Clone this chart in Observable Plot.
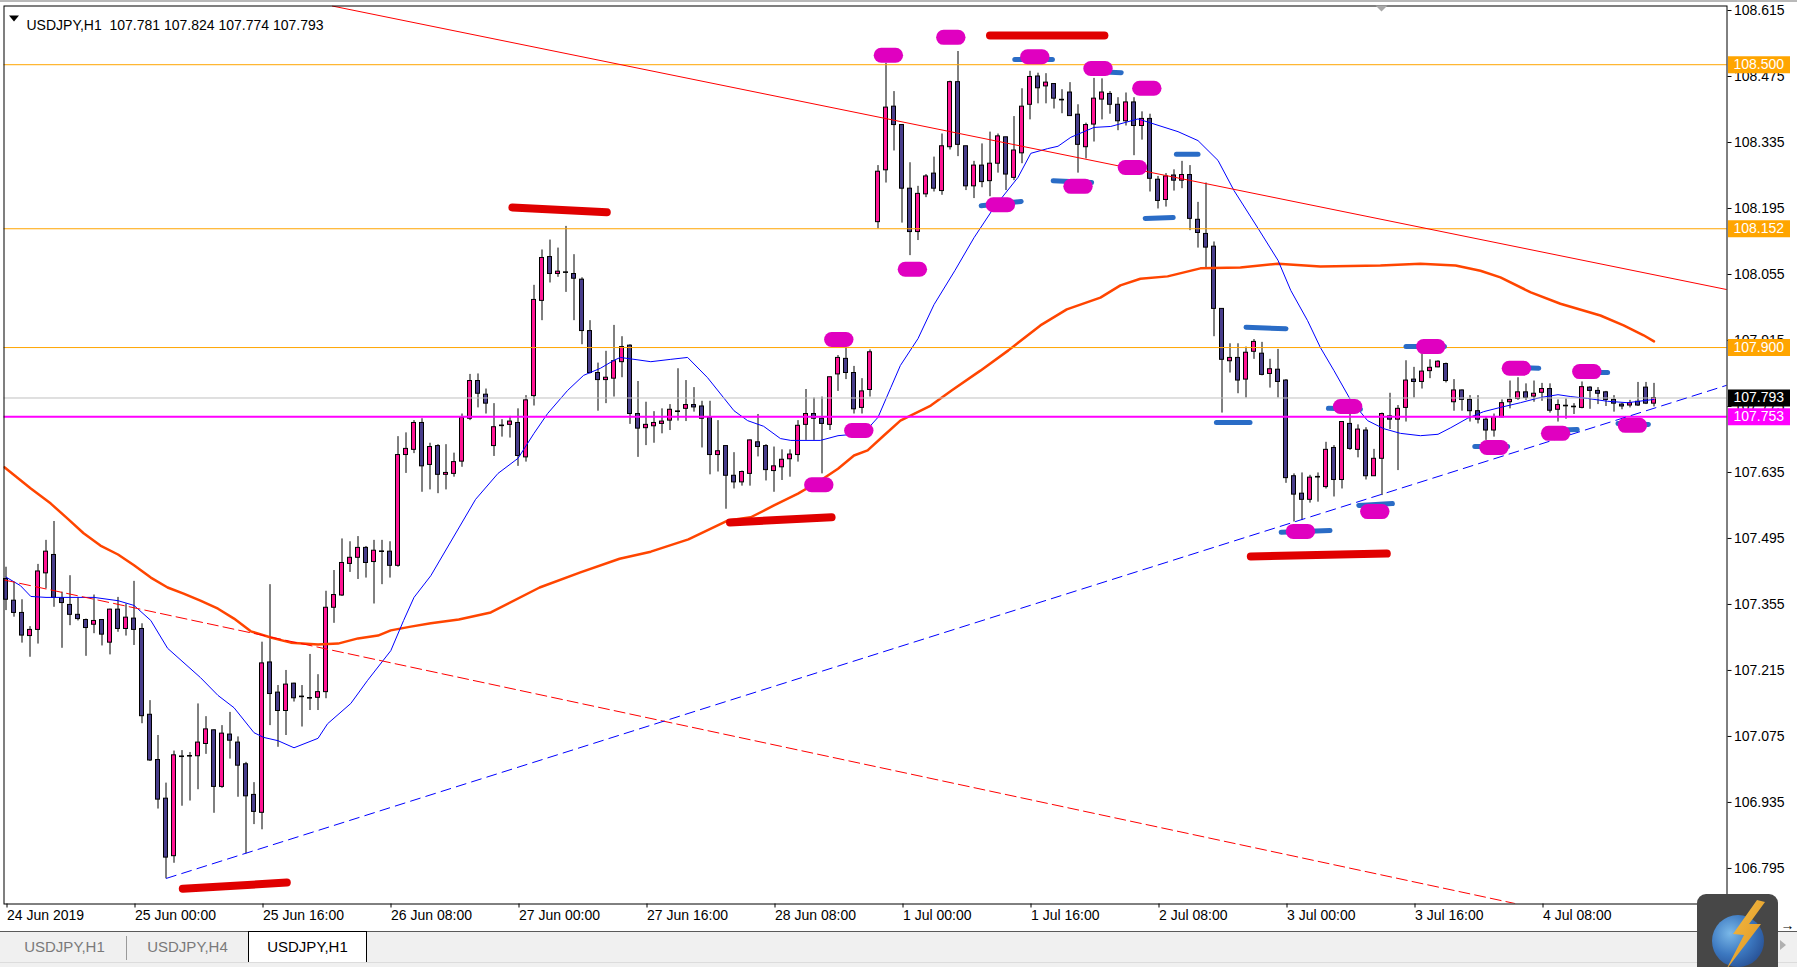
<!DOCTYPE html>
<html><head><meta charset="utf-8">
<script src="https://cdn.jsdelivr.net/npm/d3@7"></script>
<script src="https://cdn.jsdelivr.net/npm/@observablehq/plot@0.6"></script>
<style>
html,body{margin:0;padding:0;background:#fff;}
#wrap{position:relative;width:1797px;height:967px;overflow:hidden;font-family:"Liberation Sans",Arial,sans-serif;}
#chart{position:absolute;left:0;top:0;}
#topline{position:absolute;left:0;top:0;width:1797px;height:2px;background:#b9b9b9;}
#tabs{position:absolute;left:0;top:931px;width:1797px;height:36px;background:#f0f0f0;border-top:1px solid #5a5a5a;box-sizing:border-box;}
.tab{position:absolute;top:0;height:30px;line-height:30px;text-align:center;font-size:15px;color:#7a7a7a;}
.tab.active{top:-1px;height:31px;background:#fff;border:1px solid #000;border-bottom:none;box-sizing:border-box;color:#000;}
.sep{position:absolute;top:4px;width:1px;height:24px;background:#9a9a9a;}
#tabsbottom{position:absolute;left:0;top:962px;width:1797px;height:1px;background:#dcdcdc;}
#icon{position:absolute;left:1697px;top:894px;width:81px;height:82px;background:#474747;border-radius:9px;}
#globe{position:absolute;left:15px;top:21px;width:52px;height:52px;border-radius:50%;background:radial-gradient(circle at 35% 35%,#7ab8e8 0%,#3c78c0 45%,#1c3a7c 100%);}
#bolt{position:absolute;left:0;top:0;width:81px;height:82px;background:linear-gradient(120deg,#ffd35a,#e8a530 60%,#c9781a);clip-path:polygon(60px 6px,36px 40px,47px 41px,29px 76px,64px 30px,52px 30px,68px 8px);}
#arrow{position:absolute;left:1780px;top:940px;width:0;height:0;border-top:5px solid transparent;border-bottom:5px solid transparent;border-left:6px solid #b0b0b0;}
</style>
</head><body>
<div id="wrap">
  <div id="chart"></div>
  <div id="topline"></div>
  <div id="tabs">
    <div class="tab" style="left:3px;width:123px">USDJPY,H1</div>
    <div class="sep" style="left:126px"></div>
    <div class="tab" style="left:128px;width:119px">USDJPY,H4</div>
    <div class="tab active" style="left:248px;width:119px">USDJPY,H1</div>
  </div>
  <div id="tabsbottom"></div>
  <div id="arrow"></div>
  <div id="icon"><div id="globe"></div><div id="bolt"></div></div>
</div>
<script>
// ---- Data (bar index 0 = 24 Jun 2019 08:00, H1 bars) ----
const opens = [107.409,107.363,107.337,107.288,107.301,107.421,107.460,107.368,107.354,107.333,
107.322,107.312,107.322,107.274,107.344,107.303,107.325,107.303,107.121,107.025,
106.943,106.821,107.033,107.034,107.033,107.059,107.088,106.968,107.079,107.062,
107.016,106.951,106.913,107.232,107.168,107.129,107.187,107.160,107.157,107.157,
107.169,107.348,107.374,107.441,107.454,107.475,107.445,107.468,107.467,107.437,
107.672,107.683,107.740,107.651,107.691,107.630,107.632,107.658,107.749,107.829,
107.800,107.691,107.735,107.736,107.740,107.667,107.797,107.999,108.092,108.056,
108.060,108.056,108.044,107.935,107.846,107.831,107.834,107.869,107.904,107.759,
107.729,107.733,107.738,107.745,107.765,107.770,107.778,107.775,107.751,107.672,
107.691,107.628,107.614,107.632,107.699,107.691,107.638,107.646,107.663,107.672,
107.736,107.759,107.749,107.736,107.843,107.876,107.846,107.772,107.810,108.166,
108.276,108.411,108.372,108.237,108.145,108.225,108.269,108.232,108.325,108.463,
108.327,108.242,108.286,108.253,108.290,108.346,108.260,108.312,108.415,108.475,
108.454,108.459,108.426,108.441,108.394,108.325,108.373,108.426,108.438,108.415,
108.380,108.420,108.370,108.385,108.256,108.213,108.265,108.254,108.266,108.171,
108.141,108.114,107.982,107.871,107.878,107.832,107.891,107.887,107.844,107.853,
107.830,107.627,107.590,107.577,107.626,107.604,107.687,107.619,107.738,107.683,
107.724,107.627,107.664,107.754,107.747,107.772,107.832,107.827,107.850,107.858,
107.865,107.784,107.809,107.789,107.765,107.747,107.724,107.752,107.784,107.791,
107.805,107.796,107.804,107.812,107.768,107.777,107.775,107.772,107.815,107.808,
107.805,107.789,107.779,107.777,107.785,107.815,107.781];
const highs = [107.434,107.402,107.365,107.308,107.440,107.491,107.531,107.381,107.416,107.370,
107.324,107.375,107.322,107.345,107.370,107.356,107.404,107.314,107.151,107.077,
106.976,107.044,107.045,107.041,107.144,107.117,107.089,107.098,107.126,107.074,
107.020,106.977,107.275,107.397,107.183,107.215,107.188,107.183,107.249,107.206,
107.383,107.427,107.494,107.488,107.499,107.478,107.491,107.491,107.488,107.711,
107.719,107.745,107.749,107.697,107.694,107.694,107.676,107.759,107.843,107.844,
107.812,107.781,107.747,107.754,107.770,107.798,108.032,108.107,108.128,108.111,
108.157,108.097,108.048,107.957,107.867,107.892,107.947,107.923,107.906,107.828,
107.784,107.764,107.770,107.779,107.855,107.830,107.815,107.786,107.786,107.745,
107.691,107.677,107.638,107.704,107.758,107.694,107.689,107.683,107.683,107.745,
107.811,107.793,107.795,107.837,107.883,107.901,107.860,107.834,107.895,108.286,
108.503,108.443,108.372,108.292,108.242,108.267,108.304,108.353,108.465,108.528,
108.327,108.295,108.332,108.357,108.353,108.346,108.390,108.449,108.486,108.482,
108.481,108.459,108.447,108.462,108.415,108.376,108.471,108.470,108.443,108.430,
108.440,108.430,108.400,108.395,108.263,108.269,108.277,108.295,108.286,108.208,
108.249,108.124,107.982,107.908,107.908,107.901,107.917,107.911,107.875,107.896,
107.832,107.632,107.634,107.629,107.634,107.699,107.692,107.742,107.759,107.736,
107.730,107.684,107.761,107.803,107.777,107.872,107.858,107.887,107.874,107.872,
107.867,107.832,107.810,107.798,107.798,107.752,107.759,107.789,107.829,107.836,
107.823,107.829,107.824,107.823,107.789,107.791,107.781,107.827,107.817,107.815,
107.807,107.798,107.782,107.788,107.826,107.826,107.824];
const lows = [107.342,107.328,107.273,107.243,107.271,107.388,107.349,107.262,107.310,107.320,
107.245,107.293,107.267,107.248,107.296,107.288,107.268,107.102,107.022,106.921,
106.773,106.806,106.927,106.938,106.962,107.037,106.912,106.965,107.027,106.946,
106.826,106.888,106.877,107.098,107.052,107.077,107.148,107.095,107.130,107.130,
107.155,107.315,107.372,107.423,107.408,107.411,107.356,107.397,107.411,107.434,
107.633,107.675,107.593,107.598,107.590,107.598,107.625,107.646,107.745,107.772,
107.759,107.669,107.710,107.708,107.648,107.657,107.776,107.957,108.037,108.049,
108.017,107.957,107.906,107.844,107.765,107.781,107.795,107.836,107.737,107.667,
107.692,107.697,107.717,107.724,107.744,107.743,107.763,107.687,107.630,107.636,
107.557,107.600,107.606,107.606,107.668,107.617,107.593,107.618,107.625,107.657,
107.703,107.703,107.632,107.724,107.807,107.832,107.759,107.759,107.795,108.152,
108.249,108.317,108.164,108.095,108.127,108.218,108.230,108.223,108.319,108.305,
108.233,108.216,108.239,108.220,108.270,108.233,108.254,108.290,108.383,108.417,
108.417,108.406,108.396,108.391,108.270,108.300,108.336,108.383,108.395,108.360,
108.370,108.307,108.340,108.230,108.194,108.198,108.232,108.237,108.148,108.111,
108.068,107.923,107.761,107.846,107.802,107.793,107.875,107.840,107.814,107.793,
107.612,107.530,107.533,107.570,107.572,107.600,107.583,107.600,107.682,107.666,
107.619,107.627,107.586,107.726,107.639,107.742,107.793,107.812,107.834,107.857,
107.825,107.765,107.765,107.742,107.738,107.703,107.710,107.751,107.770,107.788,
107.788,107.784,107.786,107.761,107.742,107.748,107.758,107.770,107.769,107.779,
107.775,107.763,107.768,107.772,107.775,107.779,107.774];
const closes = [107.365,107.337,107.289,107.301,107.425,107.467,107.369,107.358,107.333,107.324,
107.305,107.320,107.291,107.344,107.303,107.327,107.301,107.118,107.024,106.941,
106.818,107.035,107.033,107.034,107.062,107.090,106.968,107.081,107.066,107.013,
106.948,106.915,107.230,107.165,107.129,107.185,107.156,107.160,107.157,107.169,
107.348,107.375,107.443,107.454,107.475,107.443,107.469,107.468,107.437,107.672,
107.685,107.740,107.648,107.689,107.630,107.634,107.657,107.751,107.829,107.802,
107.781,107.731,107.735,107.743,107.670,107.788,108.001,108.090,108.056,108.061,
108.060,108.046,107.935,107.846,107.831,107.836,107.871,107.901,107.759,107.728,
107.736,107.740,107.743,107.768,107.765,107.778,107.773,107.749,107.672,107.680,
107.628,107.614,107.636,107.703,107.689,107.640,107.648,107.662,107.673,107.734,
107.759,107.749,107.738,107.837,107.878,107.846,107.769,107.807,107.890,108.273,
108.409,108.372,108.237,108.145,108.226,108.263,108.237,108.327,108.463,108.330,
108.242,108.286,108.251,108.290,108.348,108.267,108.318,108.411,108.474,108.450,
108.462,108.428,108.426,108.391,108.330,108.372,108.428,108.441,108.415,108.380,
108.420,108.370,108.385,108.258,108.211,108.263,108.254,108.266,108.173,108.143,
108.112,107.982,107.874,107.878,107.830,107.889,107.912,107.842,107.854,107.827,
107.623,107.588,107.577,107.624,107.626,107.683,107.619,107.742,107.685,107.726,
107.627,107.664,107.759,107.747,107.770,107.830,107.827,107.849,107.857,107.870,
107.829,107.809,107.789,107.765,107.747,107.724,107.752,107.782,107.789,107.805,
107.793,107.802,107.812,107.766,107.778,107.777,107.775,107.816,107.808,107.802,
107.789,107.781,107.775,107.782,107.777,107.781,107.793];

// moving averages: [bar index, price]
const maFast = [[0,107.413],[1.8,107.395],[3.1,107.372],[5,107.370],[11,107.370],[14,107.363],[16,107.353],[18.1,107.321],[20.2,107.262],[24.3,107.200],[26.5,107.162],[28.5,107.136],[31,107.083],[32.2,107.073],[34,107.066],[36,107.051],[39,107.071],[40.2,107.102],[43.1,107.145],[45.2,107.194],[48.1,107.257],[49.7,107.321],[51,107.370],[53.1,107.416],[58.7,107.578],[61.5,107.633],[64,107.665],[66,107.718],[67.7,107.760],[70.2,107.809],[72.2,107.841],[74.3,107.856],[76,107.873],[76.8,107.879],[78.5,107.875],[80.6,107.870],[83.1,107.875],[85.2,107.879],[87.7,107.836],[91,107.766],[92.7,107.745],[94.7,107.733],[96.8,107.707],[98.1,107.703],[101.8,107.703],[104,107.713],[107.2,107.718],[109,107.752],[110.6,107.815],[111.8,107.862],[114,107.919],[116,107.991],[118.6,108.063],[121,108.133],[123.5,108.197],[126.5,108.261],[128.1,108.312],[130.2,108.322],[131.5,108.327],[133.1,108.346],[136,108.367],[138.1,108.369],[141.5,108.385],[146.5,108.358],[149,108.339],[151.5,108.297],[153.5,108.233],[156.5,108.153],[159,108.085],[160.6,108.021],[162.7,107.957],[164.3,107.900],[166,107.851],[168.1,107.788],[170.2,107.745],[172.2,107.728],[174.3,107.718],[176.8,107.713],[179,107.716],[180.6,107.730],[182.7,107.750],[184.7,107.764],[186.8,107.773],[189.3,107.783],[191.8,107.794],[194,107.800],[195.6,107.796],[197.7,107.792],[200.2,107.786],[202.7,107.783],[206,107.790]];
const maSlow = [[-0.2,107.646],[3.1,107.601],[5.6,107.569],[7.7,107.537],[9.7,107.506],[11.8,107.480],[14,107.461],[16,107.438],[18.1,107.412],[20.2,107.391],[22.2,107.378],[24.3,107.363],[26.5,107.346],[28.5,107.325],[30.6,107.298],[33.1,107.285],[35.6,107.274],[39,107.270],[41.5,107.272],[44,107.283],[46.5,107.289],[48.1,107.300],[50.6,107.308],[53.1,107.315],[56.6,107.323],[60.6,107.338],[66.7,107.391],[71.8,107.423],[76.7,107.452],[80.6,107.467],[85.3,107.493],[90.2,107.533],[93.1,107.540],[96,107.565],[99,107.590],[101.8,107.618],[104,107.643],[106,107.671],[107.7,107.682],[109.7,107.713],[111.8,107.745],[115.6,107.777],[118.2,107.809],[121.8,107.851],[125.3,107.894],[129.3,107.947],[132.6,107.981],[136.8,108.006],[139.3,108.032],[141.8,108.046],[145.2,108.051],[149.3,108.068],[154.3,108.070],[159,108.078],[164.3,108.072],[171.8,108.074],[176.8,108.078],[181.2,108.074],[184.3,108.063],[186.8,108.049],[190.6,108.017],[194.3,107.993],[199.3,107.968],[202.2,107.947],[204.7,107.926],[206,107.913]];

// horizontal levels & trend lines
const orangeLevels = [108.500, 108.152, 107.900];
const magentaLevels = [107.753];
const bidLevels = [107.793];
const redTrend = [[40.8,108.6245],[215.1,108.023]];
const redDashTrend = [[-0.25,107.407],[188.6,106.7207]];
const blueDashTrend = [[20.06,106.774],[215.1,107.820]];

// hand-drawn annotations: [x1 index, price1, x2 index, price2] and blobs [index, price]
const redMarks = [[21.6,106.752,35.6,106.765],[62.8,108.197,75.6,108.187],[90,107.529,103.7,107.540],[122.5,108.562,137.8,108.562],[155.1,107.457,173.1,107.463]];
const blueMarks = [[125.8,108.511,131.1,108.511],[135,108.486,139.7,108.483],[121.6,108.201,127.2,108.210],[130.6,108.254,136,108.250],[146,108.310,149.3,108.310],[142.1,108.174,146.2,108.176],[154.7,107.943,160.3,107.940],[151,107.741,155.8,107.741],[165,107.771,169.6,107.769],[159.1,107.508,165.8,107.512],[168.8,107.565,173.6,107.569],[174.7,107.902,180.1,107.902],[183.3,107.690,188,107.690],[187.2,107.858,191.9,107.856],[192.2,107.724,196.7,107.726],[196.2,107.847,200.5,107.847],[201.2,107.739,205.6,107.737]];
const blobs = [[110.3,108.520],[118.1,108.558],[128.6,108.517],[136.5,108.492],[142.6,108.450],[140.8,108.282],[124.3,108.203],[134,108.242],[113.3,108.066],[104.1,107.917],[106.6,107.724],[101.6,107.609],[178.1,107.902],[167.7,107.775],[171.1,107.552],[161.8,107.510],[186,107.688],[188.8,107.856],[193.7,107.718],[197.6,107.849],[203.3,107.735]];

// axes
const yTicks = [108.615,108.475,108.335,108.195,108.055,107.915,107.775,107.635,107.495,107.355,107.215,107.075,106.935,106.795];
const xTickIdx = [0,16,32,48,64,80,96,112,128,144,160,176,192];
const xTickLabels = ["24 Jun 2019","25 Jun 00:00","25 Jun 16:00","26 Jun 08:00","27 Jun 00:00","27 Jun 16:00","28 Jun 08:00","1 Jul 00:00","1 Jul 16:00","2 Jul 08:00","3 Jul 00:00","3 Jul 16:00","4 Jul 08:00"];
const headerText = ["USDJPY,H1\u00a0\u00a0107.781 107.824 107.774 107.793"];

// ---- build ----
const candles = opens.map((o, i) => ({i, open: o, high: highs[i], low: lows[i], close: closes[i]}));
const bodies = candles.filter(d => d.open !== d.close);
const dojis = candles.filter(d => d.open === d.close);
const BULL = "#ff1493", BEAR = "#483d8b";
const fmt = d => d.toFixed(3);
const LBL_X1 = 215.3125, LBL_X2 = 223.0625; // right price-scale label boxes

const downTri = (w, h) => ({draw(ctx) { ctx.moveTo(-w/2, -h/2); ctx.lineTo(w/2, -h/2); ctx.lineTo(0, h/2); ctx.closePath(); }});

const chart = Plot.plot({
  width: 1797, height: 932,
  marginLeft: 3.5, marginRight: 70.5, marginTop: 5.5, marginBottom: 28.5,
  x: {type: "linear", domain: [-0.25, 215.125]},
  y: {type: "linear", domain: [106.71958, 108.62455]},
  style: {background: "white", fontFamily: "'Liberation Sans', Arial, sans-serif", fontSize: "14px", overflow: "visible"},
  marks: [
    // candles
    Plot.ruleX(candles, {x: "i", y1: "low", y2: "high", stroke: "black", strokeWidth: 1}),
    Plot.rect(bodies, {x1: d => d.i - 0.25, x2: d => d.i + 0.25, y1: "open", y2: "close",
      fill: d => d.close > d.open ? BULL : BEAR, stroke: "black", strokeWidth: 1}),
    Plot.ruleY(dojis, {y: "close", x1: d => d.i - 0.3125, x2: d => d.i + 0.3125, stroke: "black", strokeWidth: 1.6}),
    // moving averages
    Plot.line(maSlow, {x: d => d[0], y: d => d[1], stroke: "#ff4500", strokeWidth: 2.5, clip: true}),
    Plot.line(maFast, {x: d => d[0], y: d => d[1], stroke: "#0000ff", strokeWidth: 1}),
    // horizontal levels
    Plot.ruleY(bidLevels, {stroke: "#c0c0c0", strokeWidth: 1}),
    Plot.ruleY(orangeLevels, {stroke: "#ffa500", strokeWidth: 1}),
    Plot.ruleY(magentaLevels, {stroke: "#ff00ff", strokeWidth: 2}),
    // trend lines
    Plot.line(redTrend, {x: d => d[0], y: d => d[1], stroke: "#ff0000", strokeWidth: 1, clip: true}),
    Plot.line(redDashTrend, {x: d => d[0], y: d => d[1], stroke: "#ff0000", strokeWidth: 1, strokeDasharray: "11,5", clip: true}),
    Plot.line(blueDashTrend, {x: d => d[0], y: d => d[1], stroke: "#0000ff", strokeWidth: 1, strokeDasharray: "10,6", clip: true}),
    // hand-drawn annotations
    Plot.link(blueMarks, {x1: d => d[0] + 0.3, y1: d => d[1], x2: d => d[2] - 0.3, y2: d => d[3], stroke: "#2a6cc6", strokeWidth: 5, strokeLinecap: "round"}),
    Plot.link(blobs, {x1: d => d[0] - 0.9, y1: d => d[1], x2: d => d[0] + 0.9, y2: d => d[1], stroke: "#e000c0", strokeWidth: 15, strokeLinecap: "round"}),
    Plot.link(redMarks, {x1: d => d[0] + 0.5, y1: d => d[1], x2: d => d[2] - 0.5, y2: d => d[3], stroke: "#e00000", strokeWidth: 8, strokeLinecap: "round"}),
    // frame & axes
    Plot.frame({stroke: "black", strokeWidth: 1}),
    Plot.axisY(yTicks, {anchor: "right", tickSize: 4, tickPadding: 3, tickFormat: fmt, fontSize: 14, fill: "black", stroke: "black"}),
    Plot.axisX(xTickIdx, {anchor: "bottom", tickSize: 4, tickPadding: 2, textAnchor: "start", dx: 1,
      tickFormat: d => xTickLabels[xTickIdx.indexOf(d)], fontSize: 14, fill: "black", stroke: "black"}),
    // price labels on the scale
    Plot.ruleY(orangeLevels, {y: d => d, x1: LBL_X1, x2: LBL_X2, stroke: "#ffa500", strokeWidth: 17}),
    Plot.ruleY(magentaLevels, {y: d => d, x1: LBL_X1, x2: LBL_X2, stroke: "#ff00ff", strokeWidth: 17}),
    Plot.ruleY(bidLevels, {y: d => d, x1: LBL_X1, x2: LBL_X2, stroke: "#000000", strokeWidth: 17}),
    Plot.text([...orangeLevels, ...magentaLevels, ...bidLevels], {x: LBL_X1, y: d => d, text: fmt, dx: 5, textAnchor: "start", fill: "white", fontSize: 14}),
    // header
    Plot.dot([0], {frameAnchor: "top-left", dx: 10, dy: 12.5, symbol: downTri(10, 6), fill: "black", stroke: null, r: 5}),
    Plot.text(headerText, {frameAnchor: "top-left", dx: 22.5, dy: 14, text: d => d, textAnchor: "start", fill: "black", fontSize: 14}),
    Plot.dot([0], {frameAnchor: "top-left", dx: 1377.5, dy: 2.5, symbol: downTri(12, 6), fill: "#a8a8a8", stroke: null, r: 5})
  ]
});
document.getElementById("chart").appendChild(chart);
</script>
</body></html>
